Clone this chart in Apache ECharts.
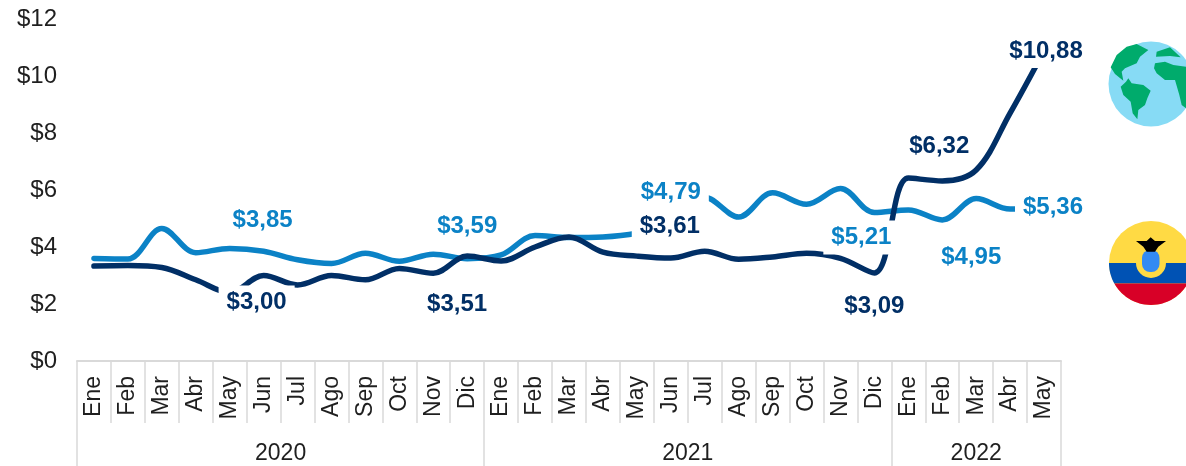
<!DOCTYPE html>
<html>
<head>
<meta charset="utf-8">
<title>Precio</title>
<script src="https://cdn.jsdelivr.net/npm/echarts@6/dist/echarts.min.js"></script>
<style>
  html, body { margin: 0; padding: 0; background: #fff; }
  #chart { width: 1186px; height: 466px; overflow: hidden; }
</style>
</head>
<body>
<div id="chart"></div>
<script>
const months = ['Ene','Feb','Mar','Abr','May','Jun','Jul','Ago','Sep','Oct','Nov','Dic',
  'Ene','Feb','Mar','Abr','May','Jun','Jul','Ago','Sep','Oct','Nov','Dic',
  'Ene','Feb','Mar','Abr','May']
const years = ['2020', '2021', '2022']
const yearLengths = [12, 12, 5]

const lightValues = [3.60, 3.58, 4.65, 3.80, 3.95, 3.85, 3.55, 3.42, 3.78, 3.50, 3.75, 3.59,
  3.72, 4.40, 4.33, 4.35, 4.48, 4.79, 5.75, 5.05, 5.90, 5.50, 6.05, 5.21,
  5.30, 4.95, 5.70, 5.33, 5.36]
const darkValues = [3.33, 3.35, 3.28, 2.85, 2.40, 3.00, 2.67, 3.00, 2.85, 3.25, 3.08, 3.68,
  3.51, 4.00, 4.35, 3.82, 3.68, 3.61, 3.85, 3.57, 3.65, 3.78, 3.60, 3.09,
  6.42, 6.32, 6.70, 8.70, 10.88]

const lightLabels = { 5: '$3,85', 11: '$3,59', 17: '$4,79', 23: '$5,21', 25: '$4,95', 28: '$5,36' }
const darkLabels = { 5: '$3,00', 12: '$3,51', 17: '$3,61', 23: '$3,09', 25: '$6,32', 28: '$10,88' }

// desplazamiento de cada etiqueta respecto a su punto
const lightOffsets = { 5: [-1, -31], 11: [0, -32], 17: [0, -32], 23: [-13, 25], 25: [29, 37], 28: [9, -1] }
const darkOffsets = { 5: [-7, 27], 12: [-44, 43], 17: [-1, -32], 23: [0, 33], 25: [-3, -35], 28: [2, 0] }

const LIGHT = '#0b82c6'
const DARK = '#012f66'
const TEXT = '#1f1f1f'
const AXIS = '#d9d9d9'
const FONT = '"Liberation Sans", Arial, sans-serif'

function buildPoints(values, labels, offsets, color) {
  return values.map((v, i) => {
    if (!labels[i]) return v
    return {
      value: v,
      label: {
        show: true,
        formatter: labels[i],
        position: 'inside',
        offset: offsets[i],
        align: 'center',
        verticalAlign: 'middle',
        color: color,
        fontFamily: FONT,
        fontSize: 24,
        fontWeight: 'bold',
        lineHeight: 24,
        backgroundColor: '#fff',
        padding: [5, 8]
      }
    }
  })
}

// bordes y centros de cada año sobre el eje de meses
const yearEdges = [0]
yearLengths.forEach((n, i) => yearEdges.push(yearEdges[i] + n))
const yearCenters = yearLengths.map((n, i) => yearEdges[i] + n / 2)

// iconos: coordenadas relativas al recorte del icono
const icon = (x, y) => [1090 + x / 3, 30 + y / 3]
const poly = (pts, fill) => ({
  type: 'polygon',
  silent: true,
  shape: { points: pts.map(p => icon(p[0], p[1])) },
  style: { fill: fill }
})
// franja de círculo entre dos alturas
function band(cx, cy, r, y1, y2, fill) {
  const pts = []
  for (let k = 0; k <= 40; k++) {
    const y = y1 + (y2 - y1) * k / 40
    pts.push([cx + Math.sqrt(Math.max(r * r - (y - cy) * (y - cy), 0)), y])
  }
  for (let k = 40; k >= 0; k--) {
    const y = y1 + (y2 - y1) * k / 40
    pts.push([cx - Math.sqrt(Math.max(r * r - (y - cy) * (y - cy), 0)), y])
  }
  return { type: 'polygon', silent: true, shape: { points: pts }, style: { fill: fill } }
}

const GREEN = '#00ab6c'
const icons = [
  { type: 'circle', silent: true, shape: { cx: 1151, cy: 84, r: 42.5 }, style: { fill: '#87dbf5' } },
  poly([[140,42],[175,60],[150,80],[140,100],[105,115],[95,125],[100,152],[75,132],[62,112],[80,75],[110,50]], GREEN),
  poly([[115,145],[125,160],[160,165],[182,182],[172,205],[165,225],[145,240],[142,268],[128,250],[122,215],[100,195],[92,170],[108,155]], GREEN),
  poly([[195,100],[225,95],[250,105],[288,110],[288,235],[275,225],[268,195],[255,150],[225,150],[200,130],[192,115]], GREEN),
  poly([[200,65],[240,52],[272,82],[240,78],[198,80]], GREEN),
  { type: 'circle', silent: true, shape: { cx: 1151, cy: 263, r: 42 }, style: { fill: '#ffda44' } },
  band(1151, 263, 42, 263, 283.5, '#0052b4'),
  band(1151, 263, 42, 283.5, 305, '#d80027'),
  { type: 'circle', silent: true, shape: { cx: 1151, cy: 263, r: 15 }, style: { fill: '#ffda44' } },
  { type: 'rect', silent: true, shape: { x: 1142, y: 250, width: 17.5, height: 22, r: 8 }, style: { fill: '#338af3' } },
  poly([[138,633],[170,633],[182,622],[195,633],[228,633],[205,650],[195,665],[170,665],[160,650]], '#000')
]

const chart = echarts.init(document.getElementById('chart'))
chart.setOption({
  animation: false,
  textStyle: { fontFamily: FONT },
  grid: { left: 77, top: 19, width: 984, height: 342 },
  xAxis: [
    {
      type: 'category',
      data: months,
      boundaryGap: true,
      axisLine: { show: true, lineStyle: { color: AXIS, width: 2 } },
      axisTick: { show: true, alignWithLabel: false, interval: 0, length: 62, lineStyle: { color: AXIS, width: 1.5 } },
      axisLabel: { interval: 0, rotate: 90, margin: 15, color: TEXT, fontSize: 23, fontFamily: FONT }
    },
    {
      type: 'value',
      position: 'bottom',
      min: 0,
      max: months.length,
      axisLine: { show: false },
      splitLine: { show: false },
      axisTick: { show: true, customValues: yearEdges, length: 105, lineStyle: { color: AXIS, width: 1.5 } },
      axisLabel: {
        customValues: yearCenters,
        formatter: v => years[yearCenters.indexOf(v)],
        margin: 81,
        color: TEXT,
        fontSize: 23,
        fontFamily: FONT
      }
    }
  ],
  yAxis: {
    type: 'value',
    min: 0,
    max: 12,
    interval: 2,
    axisLine: { show: false },
    axisTick: { show: false },
    splitLine: { show: false },
    axisLabel: { formatter: '${value}', margin: 20, color: TEXT, fontSize: 24, fontFamily: FONT, padding: [2, 0, 0, 0] }
  },
  series: [
    {
      name: 'Light',
      type: 'line',
      smooth: 0.35,
      symbol: 'circle',
      symbolSize: 0,
      showSymbol: true,
      showAllSymbol: true,
      clip: false,
      lineStyle: { width: 5.5, color: LIGHT, cap: 'round' },
      itemStyle: { color: LIGHT },
      data: buildPoints(lightValues, lightLabels, lightOffsets, LIGHT)
    },
    {
      name: 'Dark',
      type: 'line',
      smooth: 0.35,
      symbol: 'circle',
      symbolSize: 0,
      showSymbol: true,
      showAllSymbol: true,
      clip: false,
      lineStyle: { width: 5.5, color: DARK, cap: 'round' },
      itemStyle: { color: DARK },
      data: buildPoints(darkValues, darkLabels, darkOffsets, DARK)
    }
  ],
  graphic: { elements: icons }
})
</script>
</body>
</html>
